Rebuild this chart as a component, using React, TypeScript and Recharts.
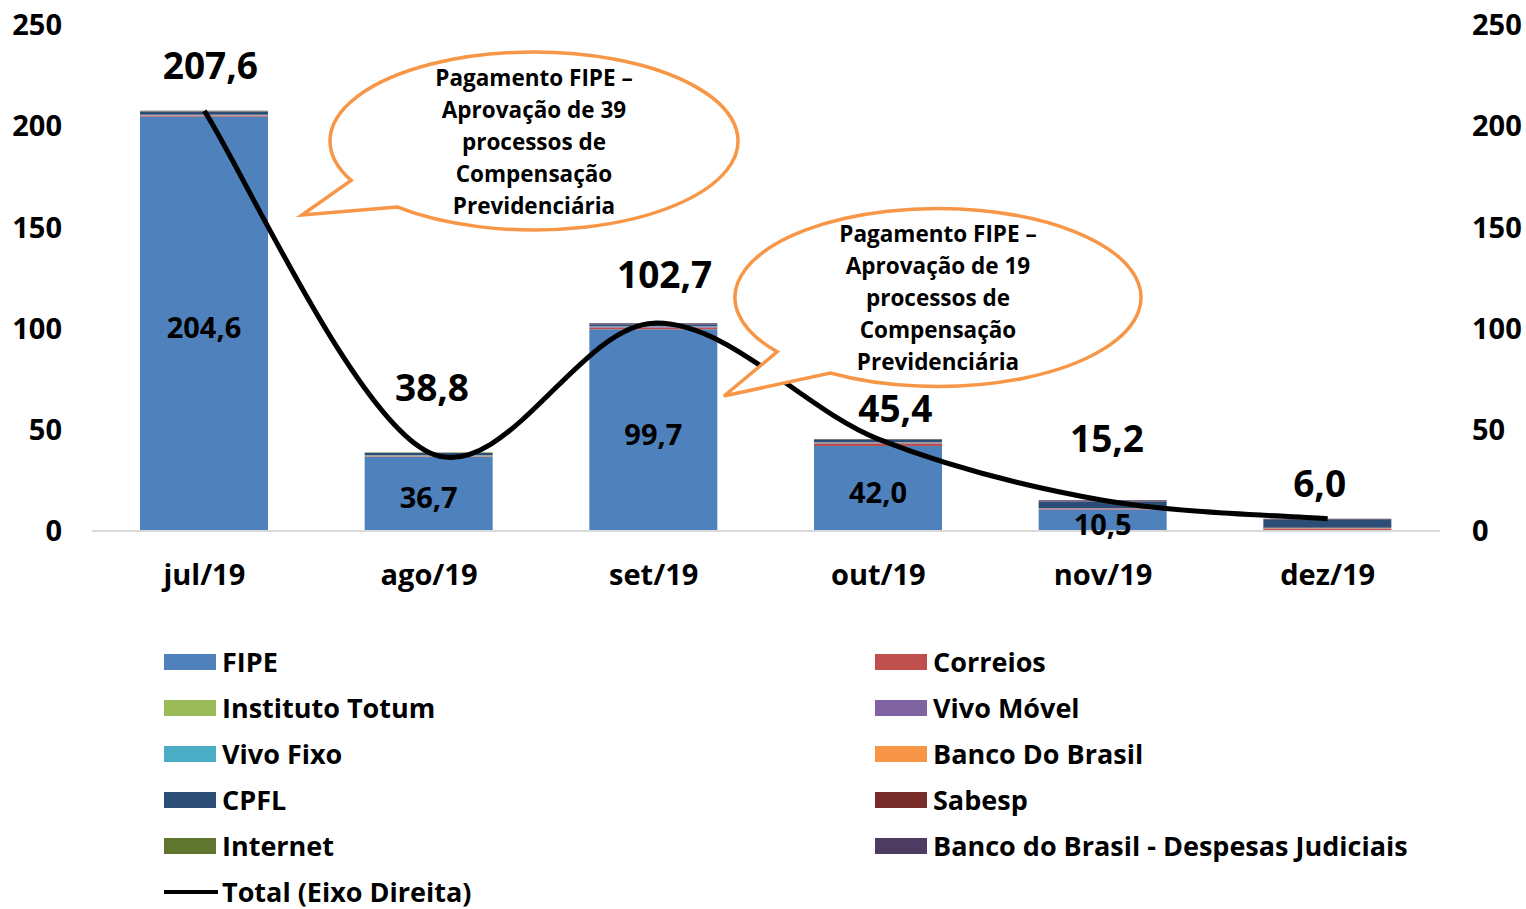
import React from "react";
import { ComposedChart, Bar, Line, XAxis, YAxis, LabelList } from "recharts";

const months = ["jul/19", "ago/19", "set/19", "out/19", "nov/19", "dez/19"];
const fipe = [204.6, 36.7, 99.7, 42.0, 10.5, 0];
const correios = [0.3, 0.2, 0.8, 1.2, 0.3, 1.2];
const institutoTotum = [0, 0.2, 0.1, 0, 0, 0];
const vivoMovel = [0.4, 0, 0.3, 0.3, 0.3, 0.2];
const vivoFixo = [0.1, 0.2, 0.2, 0.2, 0, 0];
const bancoDoBrasil = [0.2, 0.1, 0.1, 0.2, 0.2, 0.2];
const cpfl = [1.6, 1.1, 0.8, 1.0, 3.3, 4.0];
const sabesp = [0.1, 0, 0.1, 0.1, 0.1, 0];
const internet = [0.1, 0.3, 0.1, 0.2, 0, 0];
const bbJudiciais = [0.2, 0, 0.5, 0.2, 0.5, 0.4];
const total = [207.6, 38.8, 102.7, 45.4, 15.2, 6.0];
const axisTicks = [0, 50, 100, 150, 200, 250];

const series = [
  { key: "fipe", name: "FIPE", color: "#4F81BD", values: fipe },
  { key: "correios", name: "Correios", color: "#C0504D", values: correios },
  { key: "totum", name: "Instituto Totum", color: "#9BBB59", values: institutoTotum },
  { key: "vivoMovel", name: "Vivo Móvel", color: "#8064A2", values: vivoMovel },
  { key: "vivoFixo", name: "Vivo Fixo", color: "#4BACC6", values: vivoFixo },
  { key: "bb", name: "Banco Do Brasil", color: "#F79646", values: bancoDoBrasil },
  { key: "cpfl", name: "CPFL", color: "#2C4D75", values: cpfl },
  { key: "sabesp", name: "Sabesp", color: "#772C2A", values: sabesp },
  { key: "internet", name: "Internet", color: "#5F7530", values: internet },
  { key: "bbJud", name: "Banco do Brasil - Despesas Judiciais", color: "#4D3B62", values: bbJudiciais },
];

const data = months.map((m, i) => {
  const row: Record<string, string | number> = { month: m, total: total[i] };
  series.forEach((s) => (row[s.key] = s.values[i]));
  return row;
});

// manual nudges for the total labels (Excel placed them by hand)
const totalLabelShift = [
  [6, 46],
  [3, 66],
  [11, 50],
  [17, 32],
  [4, 63],
  [-8, 36],
];

const FONT = "'Open Sans', sans-serif";
const fmt = (v: number) => v.toFixed(1).replace(".", ",");

// Excel-like smoothed line (Catmull-Rom as cubic beziers)
const excelSmooth = (context: any) => {
  let pts: number[][] = [];
  return {
    areaStart() {},
    areaEnd() {},
    lineStart() {
      pts = [];
    },
    point(x: number, y: number) {
      pts.push([+x, +y]);
    },
    lineEnd() {
      if (!pts.length) return;
      context.moveTo(pts[0][0], pts[0][1]);
      for (let i = 0; i < pts.length - 1; i++) {
        const p0 = pts[Math.max(0, i - 1)];
        const p1 = pts[i];
        const p2 = pts[i + 1];
        const p3 = pts[Math.min(pts.length - 1, i + 2)];
        context.bezierCurveTo(
          p1[0] + (p2[0] - p0[0]) / 6, p1[1] + (p2[1] - p0[1]) / 6,
          p2[0] - (p3[0] - p1[0]) / 6, p2[1] - (p3[1] - p1[1]) / 6,
          p2[0], p2[1]
        );
      }
    },
  };
};

const bubbles = [
  {
    cx: 534, cy: 141, rx: 204, ry: 89, angA: 153.7, angB: 132.2, tip: [302, 215],
    lines: ["Pagamento FIPE –", "Aprovação de 39", "processos de", "Compensação", "Previdenciária"],
  },
  {
    cx: 938, cy: 297.5, rx: 203, ry: 89, angA: 142.4, angB: 122, tip: [724, 396],
    lines: ["Pagamento FIPE –", "Aprovação de 19", "processos de", "Compensação", "Previdenciária"],
  },
];

const bubblePath = (b: (typeof bubbles)[number]) => {
  const pt = (deg: number) => {
    const r = (deg * Math.PI) / 180;
    return [b.cx + b.rx * Math.cos(r), b.cy + b.ry * Math.sin(r)];
  };
  const a = pt(b.angA);
  const c = pt(b.angB);
  return `M${a[0]},${a[1]} A${b.rx},${b.ry} 0 1 1 ${c[0]},${c[1]} L${b.tip[0]},${b.tip[1]} Z`;
};

const TotalLabel = (props: any) => {
  const { x, y, index, value } = props;
  const [dx, dy] = totalLabelShift[index];
  return (
    <text x={x + dx} y={y - dy} textAnchor="middle" dominantBaseline="central"
      fontSize={37} fontWeight={700} fill="#000" fontFamily={FONT}>
      {fmt(value)}
    </text>
  );
};

const FipeLabel = (props: any) => {
  const { x, y, width, height, value } = props;
  if (!value) return null;
  return (
    <text x={x + width / 2} y={y + height / 2 + 3} textAnchor="middle" dominantBaseline="central"
      fontSize={29} fontWeight={700} fill="#000" fontFamily={FONT}>
      {fmt(value)}
    </text>
  );
};

const legendLeft = [0, 2, 4, 6, 8];
const legendRight = [1, 3, 5, 7, 9];

const LegendItem = ({ color, name, line }: { color: string; name: string; line?: boolean }) => (
  <div style={{ display: "flex", alignItems: "center", height: 46 }}>
    {line ? (
      <div style={{ width: 54, height: 4, background: "#000", marginRight: 4 }} />
    ) : (
      <div style={{ width: 52, height: 16, background: color, marginRight: 6 }} />
    )}
    <span style={{ fontSize: 27, fontWeight: 700, color: "#000", whiteSpace: "nowrap", lineHeight: "28px" }}>{name}</span>
  </div>
);

const tickStyle = { fontSize: 29, fontWeight: 700, fill: "#000", fontFamily: FONT };

export default function App() {
  return (
    <div style={{ position: "absolute", left: 0, top: 0, width: 1526, height: 909, fontFamily: FONT, background: "#fff", overflow: "hidden" }}>
      <ComposedChart width={1526} height={620} data={data} margin={{ top: 25, right: 0, bottom: 0, left: 0 }}>
        <XAxis dataKey="month" yAxisId="left" height={89} tickLine={false} axisLine={{ stroke: "#D9D9D9", strokeWidth: 2 }}
          tickMargin={27} tick={tickStyle} />
        <YAxis yAxisId="left" orientation="left" width={92} domain={[0, 250]} ticks={axisTicks} axisLine={false} tickLine={false}
          tickMargin={24} tick={tickStyle} />
        <YAxis yAxisId="right" orientation="right" width={86} domain={[0, 250]} ticks={axisTicks} axisLine={false} tickLine={false}
          tickMargin={26} tick={{ ...tickStyle, textAnchor: "start" }} />
        {series.map((s) => (
          <Bar key={s.key} dataKey={s.key} name={s.name} stackId="a" yAxisId="left" fill={s.color} barSize={128} isAnimationActive={false}>
            {s.key === "fipe" && <LabelList dataKey="fipe" content={<FipeLabel />} />}
          </Bar>
        ))}
        <Line dataKey="total" name="Total (Eixo Direita)" yAxisId="right" type={excelSmooth as any} stroke="#000" strokeWidth={5}
          dot={false} isAnimationActive={false}>
          <LabelList dataKey="total" content={<TotalLabel />} />
        </Line>
      </ComposedChart>

      <svg width={1526} height={620} style={{ position: "absolute", left: 0, top: 0, pointerEvents: "none" }}>
        {bubbles.map((b, i) => (
          <g key={i}>
            <path d={bubblePath(b)} fill="#fff" stroke="#F79646" strokeWidth={3.5} strokeLinejoin="miter" />
            {b.lines.map((t, j) => (
              <text key={j} x={b.cx} y={b.cy - 64 + j * 32} textAnchor="middle" dominantBaseline="central"
                fontSize={22.5} fontWeight={700} fill="#000" fontFamily={FONT}>{t}</text>
            ))}
          </g>
        ))}
      </svg>

      <div style={{ position: "absolute", left: 164, top: 639 }}>
        {legendLeft.map((i) => <LegendItem key={i} color={series[i].color} name={series[i].name} />)}
        <LegendItem color="#000" name="Total (Eixo Direita)" line />
      </div>
      <div style={{ position: "absolute", left: 875, top: 639 }}>
        {legendRight.map((i) => <LegendItem key={i} color={series[i].color} name={series[i].name} />)}
      </div>
    </div>
  );
}
